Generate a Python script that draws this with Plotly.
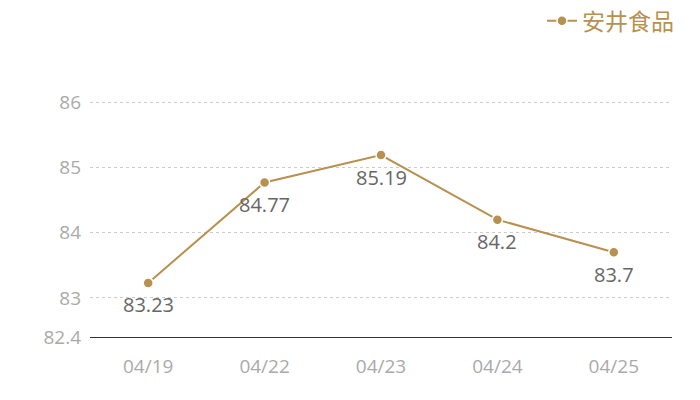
import plotly.graph_objects as go

categories = ["04/19", "04/22", "04/23", "04/24", "04/25"]
values = [83.23, 84.77, 85.19, 84.2, 83.7]
labels = ["83.23", "84.77", "85.19", "84.2", "83.7"]
series_name = "安井食品"
y_ticks = [82.4, 83, 84, 85, 86]

gold = "#B8904F"
font_family = "Open Sans, Noto Sans CJK SC, sans-serif"

fig = go.Figure()
fig.add_trace(go.Scatter(
    x=categories, y=values, name=series_name,
    mode="lines+markers",
    line=dict(color=gold, width=2),
    marker=dict(color=gold, size=10, line=dict(color="white", width=1.5)),
    cliponaxis=False,
))

for c, v, t in zip(categories, values, labels):
    fig.add_annotation(x=c, y=v, text=t, showarrow=False, yshift=-22,
                       font=dict(color="#666666", size=20, family=font_family))

fig.update_layout(
    width=700, height=400,
    margin=dict(l=82, r=36, t=93, b=71, autoexpand=False),
    paper_bgcolor="white", plot_bgcolor="white",
    font=dict(family=font_family),
    showlegend=True,
    legend=dict(x=1.012, y=1.34, xref="paper", yref="paper", xanchor="right", yanchor="middle",
                orientation="h", font=dict(color=gold, size=23, family="Noto Sans CJK SC, sans-serif"),
                bgcolor="rgba(0,0,0,0)"),
    xaxis=dict(
        type="category", range=[-0.5, 4.5],
        showgrid=False, showline=True, linecolor="#333333", linewidth=1,
        ticks="", tickfont=dict(color="#aaaaaa", size=19),
        ticklabelstandoff=12, zeroline=False, automargin=False,
    ),
    yaxis=dict(
        range=[82.4, 86.02], tickvals=y_ticks, ticktext=["82.4", "83", "84", "85", "86"],
        showgrid=True, gridcolor="#cccccc", griddash="dot", gridwidth=1,
        showline=False, zeroline=False, ticks="", automargin=False,
        tickfont=dict(color="#aaaaaa", size=19), ticklabelstandoff=8,
    ),
)

fig.write_html("out.html")
